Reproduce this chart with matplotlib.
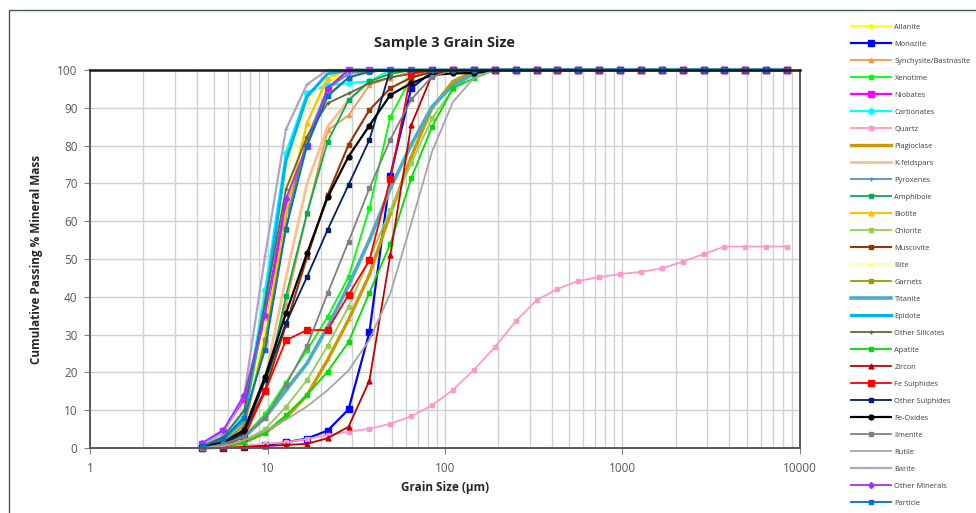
"""
Sample 3 grain size: cumulative passing % mineral mass against grain size.
"""

import matplotlib
matplotlib.use("Agg")
import matplotlib.pyplot as plt
from matplotlib.patches import Rectangle
from matplotlib.ticker import LogLocator, NullFormatter, FixedLocator, FixedFormatter

plt.rcParams["font.family"] = ["Open Sans", "DejaVu Sans"]

# ─── DATA ──────────────────────────────────────────────────────────────────────
GRAIN_SIZE = [4.3, 5.64, 7.39, 9.69, 12.7, 16.7, 21.8, 28.6, 37.5, 49.2,
              64.5, 84.5, 111, 145, 191, 250, 328, 430, 564, 739,
              969, 1270, 1665, 2183, 2862, 3752, 4918, 6448, 8453]

ALLANITE = [0, 2, 7, 30, 65, 86, 97, 99.5, 100, 100,
            100, 100, 100, 100, 100, 100, 100, 100, 100, 100,
            100, 100, 100, 100, 100, 100, 100, 100, 100]
MONAZITE = [0, 0, 0.3, 0.8, 1.5, 2.5, 4.6, 10.2, 30.6, 72,
            95.2, 99.5, 100, 100, 100, 100, 100, 100, 100, 100,
            100, 100, 100, 100, 100, 100, 100, 100, 100]
SYNCHYSITE = [0, 1, 4, 15, 38, 62, 84, 88, 96, 98,
              99.5, 100, 100, 100, 100, 100, 100, 100, 100, 100,
              100, 100, 100, 100, 100, 100, 100, 100, 100]
XENOTIME = [0, 0.5, 3, 9, 17.3, 25.9, 34.7, 45.3, 63.4, 87.6,
            98, 100, 100, 100, 100, 100, 100, 100, 100, 100,
            100, 100, 100, 100, 100, 100, 100, 100, 100]
NIOBATES = [1, 4.5, 13, 34, 64, 80, 95, 100, 100, 100,
            100, 100, 100, 100, 100, 100, 100, 100, 100, 100,
            100, 100, 100, 100, 100, 100, 100, 100, 100]
CARBONATES = [0.5, 3, 9, 41.8, 78, 94, 96, 96.5, 97, 100,
              100, 100, 100, 100, 100, 100, 100, 100, 100, 100,
              100, 100, 100, 100, 100, 100, 100, 100, 100]
QUARTZ = [0, 0.3, 0.6, 1.1, 1.5, 2.4, 3.4, 4.3, 5.1, 6.4,
          8.4, 11.3, 15.4, 20.6, 26.7, 33.5, 39.1, 42.1, 44.2, 45.2,
          46.0, 46.6, 47.5, 49.3, 51.3, 53.3, 53.3, 53.3, 53.3]
PLAGIOCLASE = [0, 0.3, 1.5, 4, 8, 14, 23.3, 33.9, 45.8, 62,
               77, 90, 97, 99.5, 100, 100, 100, 100, 100, 100,
               100, 100, 100, 100, 100, 100, 100, 100, 100]
K_FELDSPARS = [0, 1, 5, 18, 45, 70, 85, 92, 97, 99,
               100, 100, 100, 100, 100, 100, 100, 100, 100, 100,
               100, 100, 100, 100, 100, 100, 100, 100, 100]
PYROXENES = [0, 2, 7, 27, 60, 82, 95, 99, 100, 100,
             100, 100, 100, 100, 100, 100, 100, 100, 100, 100,
             100, 100, 100, 100, 100, 100, 100, 100, 100]
AMPHIBOLE = [0, 0.5, 3, 15, 40.2, 62.1, 81, 92, 97, 99,
             100, 100, 100, 100, 100, 100, 100, 100, 100, 100,
             100, 100, 100, 100, 100, 100, 100, 100, 100]
BIOTITE = [0, 2, 6, 28, 62, 86, 98, 100, 100, 100,
           100, 100, 100, 100, 100, 100, 100, 100, 100, 100,
           100, 100, 100, 100, 100, 100, 100, 100, 100]
CHLORITE = [0, 0.5, 2, 5, 10.9, 18, 27, 37.4, 50, 63,
            75.3, 87.2, 95, 99, 100, 100, 100, 100, 100, 100,
            100, 100, 100, 100, 100, 100, 100, 100, 100]
MUSCOVITE = [0, 1, 4.3, 15.3, 32.5, 50.5, 66.9, 80.2, 89.4, 95.2,
             98, 99.5, 100, 100, 100, 100, 100, 100, 100, 100,
             100, 100, 100, 100, 100, 100, 100, 100, 100]
ILLITE = [0, 2, 8, 33, 72, 91, 99, 100, 100, 100,
          100, 100, 100, 100, 100, 100, 100, 100, 100, 100,
          100, 100, 100, 100, 100, 100, 100, 100, 100]
GARNETS = [0, 1.5, 6, 28.6, 57.8, 82, 93.4, 98, 100, 100,
           100, 100, 100, 100, 100, 100, 100, 100, 100, 100,
           100, 100, 100, 100, 100, 100, 100, 100, 100]
TITANITE = [0, 1, 3, 8, 15.3, 22.4, 32, 43, 55, 68.7,
            80.2, 90.3, 96, 99, 100, 100, 100, 100, 100, 100,
            100, 100, 100, 100, 100, 100, 100, 100, 100]
EPIDOTE = [0, 2, 8, 38, 76, 93, 99, 100, 100, 100,
           100, 100, 100, 100, 100, 100, 100, 100, 100, 100,
           100, 100, 100, 100, 100, 100, 100, 100, 100]
OTHER_SILICATES = [0.5, 3, 10, 38.5, 68.4, 82.4, 91.2, 93.8, 96.5, 98,
                   99, 100, 100, 100, 100, 100, 100, 100, 100, 100,
                   100, 100, 100, 100, 100, 100, 100, 100, 100]
APATITE = [0, 0.3, 1.5, 4, 8.7, 14, 20.2, 28, 41.1, 54,
           71.3, 85, 95.2, 97.8, 100, 100, 100, 100, 100, 100,
           100, 100, 100, 100, 100, 100, 100, 100, 100]
ZIRCON = [0, 0, 0.3, 0.5, 0.8, 1.1, 2.6, 5.6, 17.8, 51.1,
          85.4, 98.7, 100, 100, 100, 100, 100, 100, 100, 100,
          100, 100, 100, 100, 100, 100, 100, 100, 100]
FE_SULPHIDES = [0, 0.5, 3, 15, 28.5, 31.2, 31.2, 40.5, 49.7, 71.2,
                99, 100, 100, 100, 100, 100, 100, 100, 100, 100,
                100, 100, 100, 100, 100, 100, 100, 100, 100]
OTHER_SULPHIDES = [0, 1, 4, 18, 33, 45.3, 57.7, 69.6, 81.5, 100,
                   100, 100, 100, 100, 100, 100, 100, 100, 100, 100,
                   100, 100, 100, 100, 100, 100, 100, 100, 100]
FE_OXIDES = [0.5, 1.5, 4.8, 18.9, 35.6, 51.5, 66.3, 77.1, 85.3, 93.4,
             96.5, 98.7, 99.1, 99.2, 100, 100, 100, 100, 100, 100,
             100, 100, 100, 100, 100, 100, 100, 100, 100]
ILMENITE = [0, 1, 3, 8, 16.7, 27, 40.9, 54.6, 68.7, 81.6,
            92.2, 98.2, 100, 100, 100, 100, 100, 100, 100, 100,
            100, 100, 100, 100, 100, 100, 100, 100, 100]
RUTILE = [0, 0.5, 2, 4.5, 7.5, 11, 15.3, 20.5, 28.6, 40.9,
          59.4, 78.4, 91.6, 97.8, 100, 100, 100, 100, 100, 100,
          100, 100, 100, 100, 100, 100, 100, 100, 100]
BARITE = [1, 4, 14, 50.8, 84.3, 96.2, 100, 100, 100, 100,
          100, 100, 100, 100, 100, 100, 100, 100, 100, 100,
          100, 100, 100, 100, 100, 100, 100, 100, 100]
OTHER_MINERALS = [1.4, 4.8, 14, 35.2, 66, 80, 95.2, 100, 100, 100,
                  100, 100, 100, 100, 100, 100, 100, 100, 100, 100,
                  100, 100, 100, 100, 100, 100, 100, 100, 100]
PARTICLE = [0.5, 2.5, 8, 26, 58, 80, 93, 98, 99.5, 100,
            100, 100, 100, 100, 100, 100, 100, 100, 100, 100,
            100, 100, 100, 100, 100, 100, 100, 100, 100]

MINERALS = ["Allanite", "Monazite", "Synchysite/Bastnasite", "Xenotime", "Niobates",
            "Carbonates", "Quartz", "Plagioclase", "K-feldspars", "Pyroxenes",
            "Amphibole", "Biotite", "Chlorite", "Muscovite", "Illite", "Garnets",
            "Titanite", "Epidote", "Other Silicates", "Apatite", "Zircon",
            "Fe Sulphides", "Other Sulphides", "Fe-Oxides", "Ilmenite", "Rutile",
            "Barite", "Other Minerals", "Particle"]
SERIES = [ALLANITE, MONAZITE, SYNCHYSITE, XENOTIME, NIOBATES,
          CARBONATES, QUARTZ, PLAGIOCLASE, K_FELDSPARS, PYROXENES,
          AMPHIBOLE, BIOTITE, CHLORITE, MUSCOVITE, ILLITE, GARNETS,
          TITANITE, EPIDOTE, OTHER_SILICATES, APATITE, ZIRCON,
          FE_SULPHIDES, OTHER_SULPHIDES, FE_OXIDES, ILMENITE, RUTILE,
          BARITE, OTHER_MINERALS, PARTICLE]

# ─── STYLE (colour, marker, marker size, line width) ───────────────────────────
STYLE = {
    "Allanite":              ("#FFFF00", "d", 3.0, 1.3),
    "Monazite":              ("#0000FF", "s", 3.8, 1.6),
    "Synchysite/Bastnasite": ("#F79646", "^", 3.0, 1.3),
    "Xenotime":              ("#00FF00", "s", 3.5, 1.3),
    "Niobates":              ("#FF00FF", "s", 4.0, 1.6),
    "Carbonates":            ("#00FFFF", "o", 3.8, 1.6),
    "Quartz":                ("#FF99CC", "s", 3.5, 1.3),
    "Plagioclase":           ("#CC9900", "_", 3.0, 2.4),
    "K-feldspars":           ("#FAC090", "_", 3.0, 2.0),
    "Pyroxenes":             ("#558ED5", "+", 3.5, 1.3),
    "Amphibole":             ("#00B050", "s", 3.5, 1.3),
    "Biotite":               ("#FFC000", "^", 3.5, 1.6),
    "Chlorite":              ("#92D050", "s", 3.5, 1.3),
    "Muscovite":             ("#993300", "s", 3.5, 1.5),
    "Illite":                ("#FFFF99", "o", 3.0, 1.3),
    "Garnets":               ("#999900", "s", 3.5, 1.3),
    "Titanite":              ("#4BACC6", "_", 3.0, 2.6),
    "Epidote":               ("#00B0F0", "None", 0, 2.2),
    "Other Silicates":       ("#666633", "+", 3.5, 1.3),
    "Apatite":               ("#00DD00", "s", 3.5, 1.3),
    "Zircon":                ("#C00000", "^", 3.5, 1.3),
    "Fe Sulphides":          ("#FF0000", "s", 3.8, 1.3),
    "Other Sulphides":       ("#002060", "s", 3.5, 1.3),
    "Fe-Oxides":             ("#000000", "o", 3.5, 1.6),
    "Ilmenite":              ("#808080", "s", 3.5, 1.3),
    "Rutile":                ("#A6A6A6", "None", 0, 1.3),
    "Barite":                ("#B3A2C7", "_", 3.0, 1.6),
    "Other Minerals":        ("#9933FF", "D", 3.0, 1.3),
    "Particle":              ("#0070C0", "s", 3.5, 1.3),
}

W, H = 976, 513
GRID = "#D0D0D0"
TEXT = "#595959"

fig = plt.figure(figsize=(W / 100, H / 100), dpi=100)
ax = fig.add_axes([90 / W, 65 / H, 710 / W, 378 / H])

handles = []
for name, values in zip(MINERALS, SERIES):
    assert len(values) == len(GRAIN_SIZE), name
    color, marker, ms, lw = STYLE[name]
    (line,) = ax.plot(GRAIN_SIZE, values, color=color, lw=lw, marker=marker,
                      ms=ms, mfc=color, mec=color, clip_on=False, label=name)
    handles.append(line)

ax.set_xscale("log")
ax.set_xlim(1, 10000)
ax.set_ylim(0, 100)
ax.xaxis.set_major_locator(FixedLocator([1, 10, 100, 1000, 10000]))
ax.xaxis.set_major_formatter(FixedFormatter(["1", "10", "100", "1000", "10000"]))
ax.xaxis.set_minor_locator(LogLocator(base=10, subs=range(2, 10)))
ax.xaxis.set_minor_formatter(NullFormatter())
ax.set_yticks(range(0, 101, 10))

ax.grid(which="both", axis="x", color=GRID, lw=1.0, zorder=0)
ax.grid(which="major", axis="y", color=GRID, lw=1.0, zorder=0)
ax.set_axisbelow(True)

ax.tick_params(axis="x", which="major", length=4, color="#808080",
               labelsize=8.5, labelcolor=TEXT, pad=6)
ax.tick_params(axis="x", which="minor", length=0)
ax.tick_params(axis="y", length=4, color="#808080", labelsize=8.5,
               labelcolor=TEXT, pad=5)
for side in ["left", "bottom", "right"]:
    ax.spines[side].set_color("#595959")
    ax.spines[side].set_linewidth(1.4)
ax.spines["top"].set_color("#1A1A1A")
ax.spines["top"].set_linewidth(1.8)

fig.text(445 / W, 1 - 43 / H, "Sample 3 Grain Size", ha="center", va="center",
         fontsize=10.5, fontweight="bold", color="#262626")
fig.text(445 / W, 1 - 487 / H, "Grain Size (µm)", ha="center", va="center",
         fontsize=8.5, fontweight="bold", color="#262626")
fig.text(37 / W, 1 - 259 / H, "Cumulative Passing % Mineral Mass", ha="center",
         va="center", rotation=90, fontsize=8.5, fontweight="bold", color="#262626")

fig.legend(handles=handles, loc="upper left", bbox_to_anchor=(851 / W, 1 - 23.5 / H),
           frameon=False, fontsize=5.4, handlelength=5.3, handletextpad=0.5,
           labelspacing=1.3, borderaxespad=0, borderpad=0, labelcolor="#404040")

# chart area border
fig.add_artist(Rectangle((9 / W, -0.05), 1.1, 1 - 10 / H + 0.05,
                         transform=fig.transFigure, fill=False,
                         ec="#44546A", lw=1.0))

fig.savefig("out.png", dpi=100)
